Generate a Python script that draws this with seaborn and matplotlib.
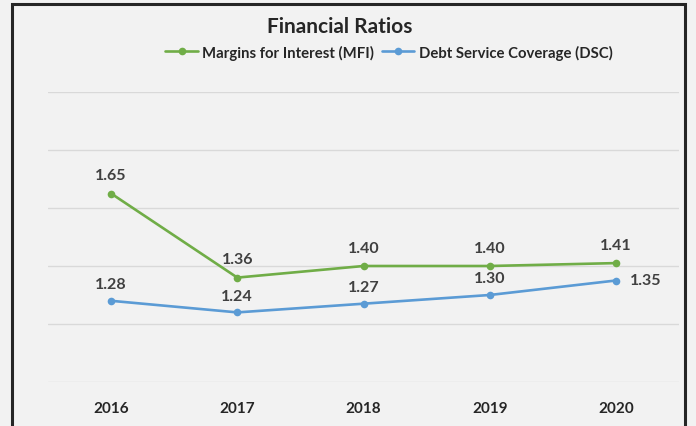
import pandas as pd
import matplotlib.pyplot as plt
import matplotlib.patches as mpatches
import seaborn as sns

# dados do gráfico
anos = ['2016', '2017', '2018', '2019', '2020']
mfi = [1.65, 1.36, 1.40, 1.40, 1.41]
dsc = [1.28, 1.24, 1.27, 1.30, 1.35]
serie_mfi = 'Margins for Interest (MFI)'
serie_dsc = 'Debt Service Coverage (DSC)'

df = pd.DataFrame({
    'Ano': anos * 2,
    'Valor': mfi + dsc,
    'Serie': [serie_mfi] * len(anos) + [serie_dsc] * len(anos),
})

sns.set_style('white')
plt.rcParams['font.family'] = ['Lato', 'DejaVu Sans']

cores = {serie_mfi: '#70ad47', serie_dsc: '#5b9bd5'}

fig = plt.figure(figsize=(6.96, 4.27), dpi=100, facecolor='#f2f2f2')
ax = fig.add_axes([48 / 696, 1 - 383 / 427, (679 - 48) / 696, (383 - 93) / 427])
ax.set_facecolor('#f2f2f2')

sns.lineplot(data=df, x='Ano', y='Valor', hue='Serie', palette=cores,
             marker='o', markersize=5.5, markeredgewidth=0, linewidth=1.9,
             sort=False, ax=ax, legend=True)

ax.set_xlim(-0.5, len(anos) - 0.5)
ax.set_ylim(1.0, 2.0)
ax.set_yticks([1.0, 1.2, 1.4, 1.6, 1.8, 2.0])
ax.yaxis.grid(True, color='#d9d9d9', linewidth=1)
ax.set_yticklabels([])
ax.tick_params(axis='y', length=0)
ax.tick_params(axis='x', length=0, pad=14, labelsize=11)
for lbl in ax.get_xticklabels():
    lbl.set_fontweight('bold')
ax.set_xlabel('')
ax.set_ylabel('')
for s in ax.spines.values():
    s.set_visible(False)

# rótulos de dados
for i, v in enumerate(mfi):
    ax.annotate(f'{v:.2f}', (i, v), xytext=(0, 8), textcoords='offset points',
                ha='center', va='bottom', fontsize=11.5, fontweight='bold', color='#404040')
for i, v in enumerate(dsc):
    if i == len(dsc) - 1:
        ax.annotate(f'{v:.2f}', (i, v), xytext=(10, 0), textcoords='offset points',
                    ha='left', va='center', fontsize=11.5, fontweight='bold', color='#404040')
    else:
        ax.annotate(f'{v:.2f}', (i, v), xytext=(0, 7), textcoords='offset points',
                    ha='center', va='bottom', fontsize=11.5, fontweight='bold', color='#404040')

leg = ax.legend(loc='center', bbox_to_anchor=(389 / 696, 1 - 53 / 427),
                bbox_transform=fig.transFigure, ncol=2, frameon=False,
                handlelength=2.2, handletextpad=0.3, columnspacing=0.5,
                prop={'weight': 'bold', 'size': 10.7})

fig.text(340 / 696, 1 - 27 / 427, 'Financial Ratios', ha='center', va='center',
         fontsize=15, fontweight='bold')

# moldura da imagem
fig.patches.append(mpatches.Rectangle((12 / 696, -0.05), (685 - 12) / 696, 1.05 - 5 / 427,
                                      transform=fig.transFigure, fill=False,
                                      edgecolor='#262626', linewidth=2.2))

fig.savefig('out.png', dpi=100, facecolor='#f2f2f2')
